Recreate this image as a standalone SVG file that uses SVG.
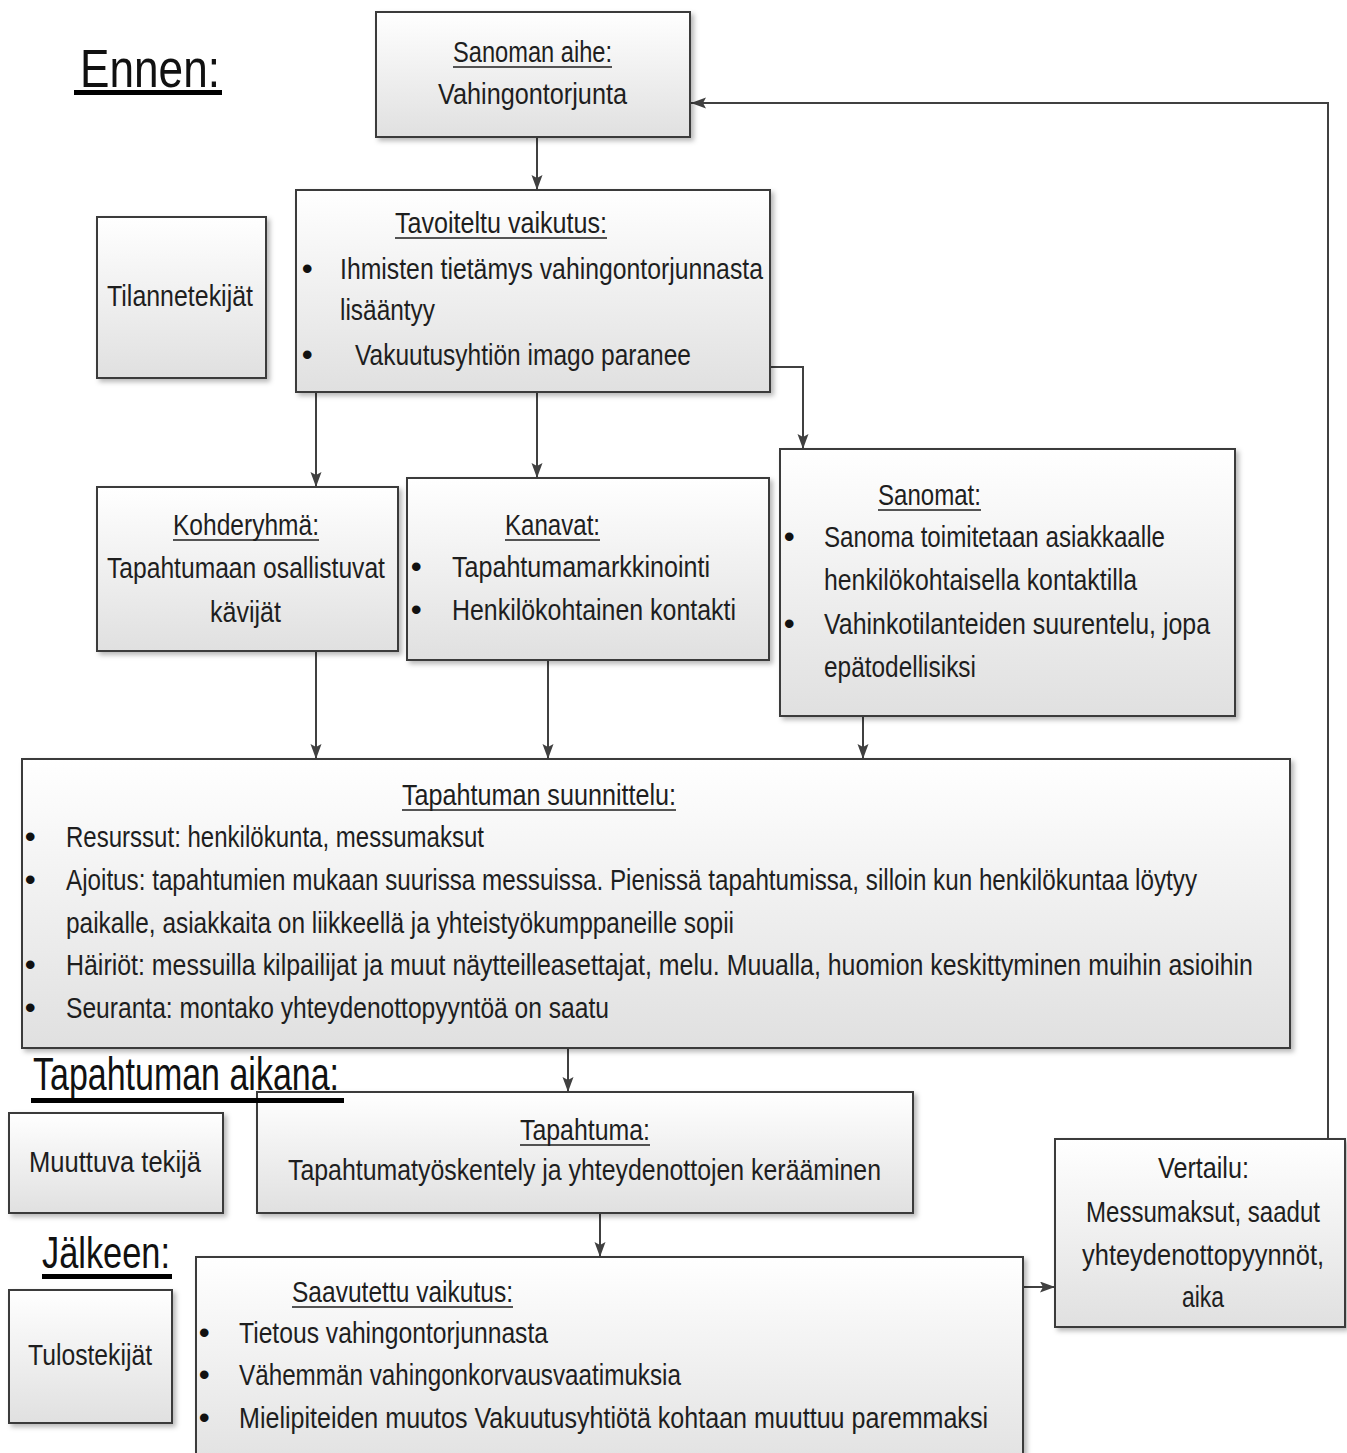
<svg xmlns="http://www.w3.org/2000/svg" width="1347" height="1453" viewBox="0 0 1347 1453">
<style>
.box{fill:url(#bg);stroke:#3a3a3a;stroke-width:2;filter:url(#sh)}
.t{font-family:"Liberation Sans",Arial,sans-serif;font-size:30px;fill:#1e1e1e}
.b{font-family:"Liberation Sans",Arial,sans-serif;font-size:30px;font-weight:bold;fill:#111}
.hd{font-family:"Liberation Sans",Arial,sans-serif;fill:#111}
.ul{stroke:#1e1e1e;stroke-width:1.6}
.hul{fill:#000}
.c{fill:none;stroke:#404040;stroke-width:2;marker-end:url(#ah)}
</style>
<defs>
<linearGradient id="bg" x1="0" y1="0" x2="0" y2="1">
<stop offset="0" stop-color="#ffffff"/>
<stop offset="1" stop-color="#e0e0e0"/>
</linearGradient>
<filter id="sh" x="-5%" y="-5%" width="112%" height="115%">
<feDropShadow dx="3" dy="3" stdDeviation="2.5" flood-color="#000" flood-opacity="0.28"/>
</filter>
<marker id="ah" markerUnits="userSpaceOnUse" markerWidth="16" markerHeight="12" refX="15" refY="5.5" orient="auto">
<path d="M0,0 L15,5.5 L0,11 L3,5.5 z" fill="#404040"/>
</marker>
</defs>
<rect width="1347" height="1453" fill="#ffffff"/>

<g id="connectors">
<path class="c" d="M537,138 V190"/>
<path class="c" d="M316,393 V487"/>
<path class="c" d="M537,393 V478"/>
<path class="c" d="M771,367 H803 V449"/>
<path class="c" d="M316,652 V759"/>
<path class="c" d="M548,661 V759"/>
<path class="c" d="M863,717 V759"/>
<path class="c" d="M568,1049 V1092"/>
<path class="c" d="M600,1214 V1257"/>
<path class="c" d="M1024,1287 H1055"/>
<path class="c" d="M1328,1139 V103 H691"/>
</g>

<g id="sanoman-aihe">
<rect class="box" x="376" y="12" width="314" height="125"/>
<text class="t" transform="translate(453,62) scale(0.83,1)" textLength="191.6" lengthAdjust="spacingAndGlyphs">Sanoman aihe:</text>
<line class="ul" x1="453" y1="67" x2="612" y2="67"/>
<text class="t" transform="translate(438,104) scale(0.83,1)" textLength="227.7" lengthAdjust="spacingAndGlyphs">Vahingontorjunta</text>
</g>

<g id="tilannetekijat">
<rect class="box" x="97" y="217" width="169" height="161"/>
<text class="t" transform="translate(107,306) scale(0.83,1)" textLength="175.9" lengthAdjust="spacingAndGlyphs">Tilannetekijät</text>
</g>

<g id="tavoiteltu">
<rect class="box" x="296" y="190" width="474" height="202"/>
<text class="t" transform="translate(395,233) scale(0.83,1)" textLength="255.4" lengthAdjust="spacingAndGlyphs">Tavoiteltu vaikutus:</text>
<line class="ul" x1="395" y1="238" x2="607" y2="238"/>
<text class="b" x="302" y="279">•</text>
<text class="t" transform="translate(340,279) scale(0.83,1)" textLength="509.6" lengthAdjust="spacingAndGlyphs">Ihmisten tietämys vahingontorjunnasta</text>
<text class="t" transform="translate(340,320) scale(0.83,1)" textLength="114.5" lengthAdjust="spacingAndGlyphs">lisääntyy</text>
<text class="b" x="302" y="365">•</text>
<text class="t" transform="translate(355,365) scale(0.83,1)" textLength="404.8" lengthAdjust="spacingAndGlyphs">Vakuutusyhtiön imago paranee</text>
</g>

<g id="kohderyhma">
<rect class="box" x="97" y="487" width="301" height="164"/>
<text class="t" transform="translate(173,535) scale(0.83,1)" textLength="175.9" lengthAdjust="spacingAndGlyphs">Kohderyhmä:</text>
<line class="ul" x1="173" y1="540" x2="319" y2="540"/>
<text class="t" transform="translate(107,578) scale(0.83,1)" textLength="334.9" lengthAdjust="spacingAndGlyphs">Tapahtumaan osallistuvat</text>
<text class="t" transform="translate(210,622) scale(0.83,1)" textLength="85.5" lengthAdjust="spacingAndGlyphs">kävijät</text>
</g>

<g id="kanavat">
<rect class="box" x="407" y="478" width="362" height="182"/>
<text class="t" transform="translate(505,535) scale(0.83,1)" textLength="114.5" lengthAdjust="spacingAndGlyphs">Kanavat:</text>
<line class="ul" x1="505" y1="540" x2="600" y2="540"/>
<text class="b" x="411" y="577">•</text>
<text class="t" transform="translate(452,577) scale(0.83,1)" textLength="310.8" lengthAdjust="spacingAndGlyphs">Tapahtumamarkkinointi</text>
<text class="b" x="411" y="620">•</text>
<text class="t" transform="translate(452,620) scale(0.83,1)" textLength="342.2" lengthAdjust="spacingAndGlyphs">Henkilökohtainen kontakti</text>
</g>

<g id="sanomat">
<rect class="box" x="780" y="449" width="455" height="267"/>
<text class="t" transform="translate(878,505) scale(0.83,1)" textLength="124.1" lengthAdjust="spacingAndGlyphs">Sanomat:</text>
<line class="ul" x1="878" y1="510" x2="981" y2="510"/>
<text class="b" x="784" y="547">•</text>
<text class="t" transform="translate(824,547) scale(0.83,1)" textLength="410.8" lengthAdjust="spacingAndGlyphs">Sanoma toimitetaan asiakkaalle</text>
<text class="t" transform="translate(824,590) scale(0.83,1)" textLength="377.1" lengthAdjust="spacingAndGlyphs">henkilökohtaisella kontaktilla</text>
<text class="b" x="784" y="634">•</text>
<text class="t" transform="translate(824,634) scale(0.83,1)" textLength="465.1" lengthAdjust="spacingAndGlyphs">Vahinkotilanteiden suurentelu, jopa</text>
<text class="t" transform="translate(824,677) scale(0.83,1)" textLength="183.1" lengthAdjust="spacingAndGlyphs">epätodellisiksi</text>
</g>

<g id="suunnittelu">
<rect class="box" x="22" y="759" width="1268" height="289"/>
<text class="t" transform="translate(402,805) scale(0.83,1)" textLength="330.1" lengthAdjust="spacingAndGlyphs">Tapahtuman suunnittelu:</text>
<line class="ul" x1="402" y1="810" x2="676" y2="810"/>
<text class="b" x="25" y="847">•</text>
<text class="t" transform="translate(66,847) scale(0.83,1)" textLength="503.6" lengthAdjust="spacingAndGlyphs">Resurssut: henkilökunta, messumaksut</text>
<text class="b" x="25" y="890">•</text>
<text class="t" transform="translate(66,890) scale(0.83,1)" textLength="1362.7" lengthAdjust="spacingAndGlyphs">Ajoitus: tapahtumien mukaan suurissa messuissa. Pienissä tapahtumissa, silloin kun henkilökuntaa löytyy</text>
<text class="t" transform="translate(66,933) scale(0.83,1)" textLength="804.8" lengthAdjust="spacingAndGlyphs">paikalle, asiakkaita on liikkeellä ja yhteistyökumppaneille sopii</text>
<text class="b" x="25" y="975">•</text>
<text class="t" transform="translate(66,975) scale(0.83,1)" textLength="1430.1" lengthAdjust="spacingAndGlyphs">Häiriöt: messuilla kilpailijat ja muut näytteilleasettajat, melu. Muualla, huomion keskittyminen muihin asioihin</text>
<text class="b" x="25" y="1018">•</text>
<text class="t" transform="translate(66,1018) scale(0.83,1)" textLength="654.2" lengthAdjust="spacingAndGlyphs">Seuranta: montako yhteydenottopyyntöä on saatu</text>
</g>

<g id="muuttuva">
<rect class="box" x="9" y="1113" width="214" height="100"/>
<text class="t" transform="translate(29,1172) scale(0.83,1)" textLength="207.2" lengthAdjust="spacingAndGlyphs">Muuttuva tekijä</text>
</g>

<g id="tapahtuma">
<rect class="box" x="257" y="1092" width="656" height="121"/>
<text class="t" transform="translate(520,1140) scale(0.83,1)" textLength="156.6" lengthAdjust="spacingAndGlyphs">Tapahtuma:</text>
<line class="ul" x1="520" y1="1145" x2="650" y2="1145"/>
<text class="t" transform="translate(288,1180) scale(0.83,1)" textLength="714.5" lengthAdjust="spacingAndGlyphs">Tapahtumatyöskentely ja yhteydenottojen kerääminen</text>
</g>

<g id="tulostekijat">
<rect class="box" x="9" y="1290" width="163" height="133"/>
<text class="t" transform="translate(28,1365) scale(0.83,1)" textLength="149.4" lengthAdjust="spacingAndGlyphs">Tulostekijät</text>
</g>

<g id="saavutettu">
<rect class="box" x="196" y="1257" width="827" height="220"/>
<text class="t" transform="translate(292,1302) scale(0.83,1)" textLength="266.3" lengthAdjust="spacingAndGlyphs">Saavutettu vaikutus:</text>
<line class="ul" x1="292" y1="1307" x2="513" y2="1307"/>
<text class="b" x="199" y="1343">•</text>
<text class="t" transform="translate(239,1343) scale(0.83,1)" textLength="372.3" lengthAdjust="spacingAndGlyphs">Tietous vahingontorjunnasta</text>
<text class="b" x="199" y="1385">•</text>
<text class="t" transform="translate(239,1385) scale(0.83,1)" textLength="532.5" lengthAdjust="spacingAndGlyphs">Vähemmän vahingonkorvausvaatimuksia</text>
<text class="b" x="199" y="1428">•</text>
<text class="t" transform="translate(239,1428) scale(0.83,1)" textLength="902.4" lengthAdjust="spacingAndGlyphs">Mielipiteiden muutos Vakuutusyhtiötä kohtaan muuttuu paremmaksi</text>
</g>

<g id="vertailu">
<rect class="box" x="1055" y="1139" width="290" height="188"/>
<text class="t" transform="translate(1158,1178) scale(0.83,1)" textLength="109.6" lengthAdjust="spacingAndGlyphs">Vertailu:</text>
<text class="t" transform="translate(1086,1222) scale(0.83,1)" textLength="281.9" lengthAdjust="spacingAndGlyphs">Messumaksut, saadut</text>
<text class="t" transform="translate(1082,1265) scale(0.83,1)" textLength="291.6" lengthAdjust="spacingAndGlyphs">yhteydenottopyynnöt,</text>
<text class="t" transform="translate(1182,1307) scale(0.83,1)" textLength="50.6" lengthAdjust="spacingAndGlyphs">aika</text>
</g>

<g id="headings">
<text class="hd" transform="translate(80,87) scale(0.82,1)" font-size="54" textLength="170.7" lengthAdjust="spacingAndGlyphs">Ennen:</text>
<rect class="hul" x="74" y="90" width="148" height="5"/>
<text class="hd" transform="translate(33,1090) scale(0.73,1)" font-size="46" textLength="419.2" lengthAdjust="spacingAndGlyphs">Tapahtuman aikana:</text>
<rect class="hul" x="31" y="1098" width="313" height="5"/>
<text class="hd" transform="translate(42,1268) scale(0.76,1)" font-size="45" textLength="168.4" lengthAdjust="spacingAndGlyphs">Jälkeen:</text>
<rect class="hul" x="42" y="1274" width="130" height="5"/>
</g>
</svg>
